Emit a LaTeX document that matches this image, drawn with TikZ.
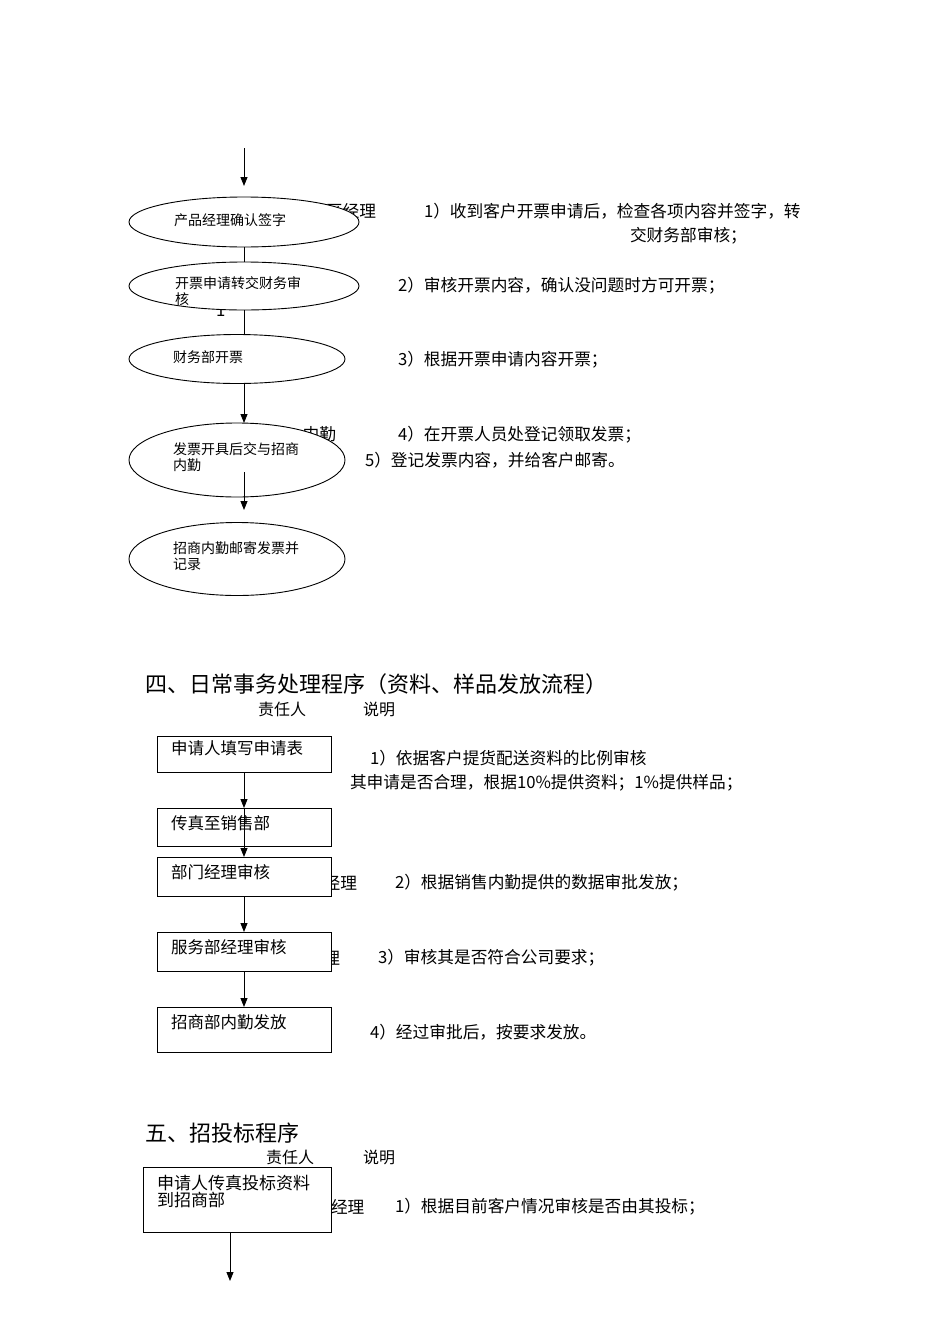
\documentclass[tikz,border=0pt]{standalone}
\usepackage{fontspec}
\setmainfont{Noto Sans CJK SC}
\usetikzlibrary{shapes.geometric,arrows.meta}
\begin{document}
\begin{tikzpicture}[x=1pt,y=-1pt,
  every node/.style={inner sep=0pt, outer sep=0pt},
  ov/.style={ellipse, draw, fill=white, line width=0.9pt},
  bx/.style={rectangle, draw, fill=white, line width=0.9pt, minimum width=174pt},
  lbl/.style={anchor=west, font=\fontsize{14}{16}\selectfont, align=left},
  boxt/.style={anchor=west, font=\fontsize{16.5}{17}\selectfont, align=left},
  desc/.style={anchor=west, font=\fontsize{16.7}{18}\selectfont},
  head/.style={anchor=west, font=\fontsize{22}{24}\selectfont},
  sub/.style={anchor=west, font=\fontsize{16}{18}\selectfont},
  ln/.style={line width=0.9pt},
  arr/.style={line width=0.9pt, -{Triangle[length=9pt,width=7pt]}}
]
\useasboundingbox (0,0) rectangle (950,1344);

% partly hidden texts behind shapes
\node[desc, anchor=east] (h1) at (376,211) {区经理};
\node[desc, anchor=east] (h2) at (336,434) {内勤};
\node[desc] (h3) at (216,311) {1};
\node[desc, anchor=east] (h4) at (357,883) {经理};
\node[desc, anchor=east] (h5) at (340,958) {经理};
\node[desc] (h6) at (331,1207) {经理};

% ellipses
\node[ov, minimum width=230pt, minimum height=50pt] (e1) at (244,222) {};
\node[ov, minimum width=230pt, minimum height=48pt] (e2) at (244,286) {};
\node[ov, minimum width=216pt, minimum height=49pt] (e3) at (237,359) {};
\node[ov, minimum width=216pt, minimum height=74pt] (e4) at (237,460) {};
\node[ov, minimum width=216pt, minimum height=73pt] (e5) at (237,559) {};

\node[lbl] (t1) at (174,220) {产品经理确认签字};
\node[lbl] (t2) at (175,291) {开票申请转交财务审\\核};
\node[lbl] (t3) at (173,357) {财务部开票};
\node[lbl] (t4) at (173,457) {发票开具后交与招商\\内勤};
\node[lbl] (t5) at (173,556) {招商内勤邮寄发票并\\记录};

% connectors, top part
\coordinate (top) at (244,148);
\coordinate (topend) at (244,186);
\draw[arr] (top) -- (topend);
\draw[ln] (e1.south) -- (e2.north);
\draw[ln] (e2.south) -- (e3.north -| e2.south);
\draw[arr] (e3.south -| e2.south) -- (e4.north -| e2.south);
\coordinate (c4a) at (244,472);
\coordinate (c4b) at (244,510);
\draw[arr] (c4a) -- (c4b);

% descriptions, top part
\node[desc] (d1) at (424,211) {1）收到客户开票申请后，检查各项内容并签字，转};
\node[desc] (d1b) at (630,236) {交财务部审核；};
\node[desc] (d2) at (398,286) {2）审核开票内容，确认没问题时方可开票；};
\node[desc] (d3) at (398,360) {3）根据开票申请内容开票；};
\node[desc] (d4) at (398,435) {4）在开票人员处登记领取发票；};
\node[desc] (d5) at (365,460) {5）登记发票内容，并给客户邮寄。};

% section 4
\node[head] (s4) at (145,684) {四、日常事务处理程序（资料、样品发放流程）};
\node[sub] (r4) at (258,709) {责任人};
\node[sub] (m4) at (363,709) {说明};

\node[bx, minimum height=36pt] (b1) at (244,754) {};
\node[bx, minimum height=38pt] (b2) at (244,827) {};
\node[bx, minimum height=39pt] (b3) at (244,876.5) {};
\node[bx, minimum height=39pt] (b4) at (244,951.5) {};
\node[bx, minimum height=45pt] (b5) at (244,1029.5) {};

\node[boxt] (bt1) at (171,748) {申请人填写申请表};
\node[boxt] (bt2) at (171,823) {传真至销售部};
\node[boxt] (bt3) at (171,872) {部门经理审核};
\node[boxt] (bt4) at (171,947) {服务部经理审核};
\node[boxt] (bt5) at (171,1022) {招商部内勤发放};

\draw[arr] (b1.south) -- (b2.north);
\draw[arr] (b2.north) -- (b3.north);
\draw[arr] (b3.south) -- (b4.north);
\draw[arr] (b4.south) -- (b5.north);

\node[desc] (d41) at (370,758) {1）依据客户提货配送资料的比例审核};
\node[desc] (d41b) at (350,783) {其申请是否合理，根据10\%提供资料；1\%提供样品；};
\node[desc] (d42) at (395,883) {2）根据销售内勤提供的数据审批发放；};
\node[desc] (d43) at (378,958) {3）审核其是否符合公司要求；};
\node[desc] (d44) at (370,1032) {4）经过审批后，按要求发放。};

% section 5
\node[head] (s5) at (145,1133) {五、招投标程序};
\node[sub] (r5) at (266,1157) {责任人};
\node[sub] (m5) at (363,1157) {说明};

\node[bx, minimum width=188pt, minimum height=65pt] (b6) at (237,1199.5) {};
\node[boxt, font=\fontsize{17}{17}\selectfont] (bt6) at (157,1191.5) {申请人传真投标资料\\到招商部};
\node[desc] (d51) at (395,1207) {1）根据目前客户情况审核是否由其投标；};
\coordinate (c6) at (230,1281);
\draw[arr] (b6.south -| c6) -- (c6);

\end{tikzpicture}
\end{document}
